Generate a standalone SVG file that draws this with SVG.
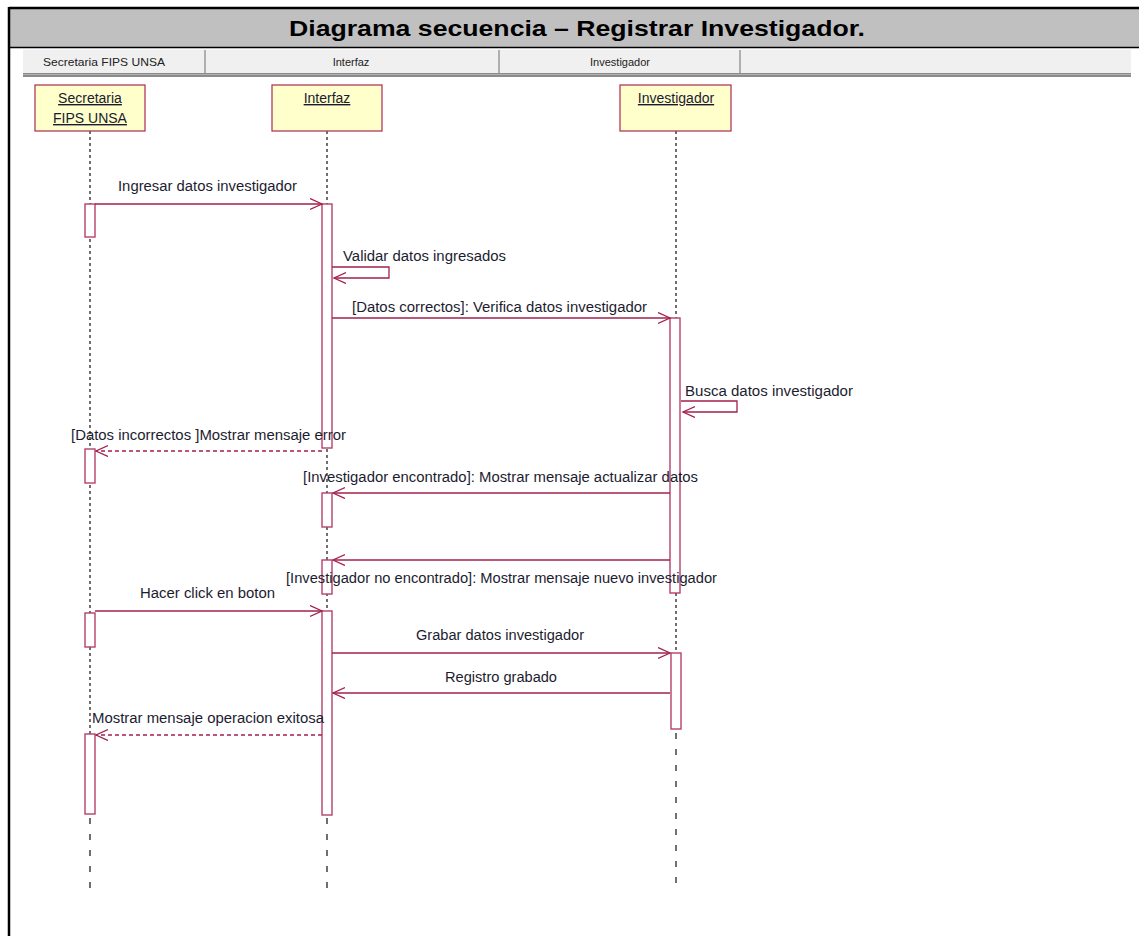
<svg xmlns="http://www.w3.org/2000/svg" width="1139" height="936" viewBox="0 0 1139 936">
  <defs>
    <style>
      .title { font-family: "Liberation Sans", Arial, sans-serif; font-weight: bold; font-size: 22px; fill: #000; }
      .hdr { font-family: "Liberation Sans", Arial, sans-serif; font-size: 11px; fill: #222; }
      .obj { font-family: "Liberation Sans", Arial, sans-serif; font-size: 14px; fill: #1c1c30; text-decoration: underline; }
      .lbl { font-family: "Liberation Sans", Arial, sans-serif; font-size: 14px; fill: #1c1c30; }
      .objbox { fill: #ffffcc; stroke: #b03a5c; stroke-width: 1.3; }
      .life { stroke: #111; stroke-width: 1.2; stroke-dasharray: 3 3; fill: none; }
      .life2 { stroke: #222; stroke-width: 1.3; stroke-dasharray: 6 10; fill: none; }
      .act { fill: #fff; stroke: #b5406a; stroke-width: 1.4; }
      .msg { stroke: #a3204f; stroke-width: 1.3; fill: none; }
      .ret { stroke: #a3204f; stroke-width: 1.3; fill: none; stroke-dasharray: 4 3; }
    </style>
    <marker id="open" markerUnits="userSpaceOnUse" markerWidth="14" markerHeight="13" refX="12" refY="6" orient="auto">
      <path d="M0,0.5 L12,6 L0,11.5" fill="none" stroke="#a3204f" stroke-width="1.3"/>
    </marker>
  </defs>

  <!-- frame and title bar -->
  <rect x="9" y="8" width="1135" height="39" fill="#c0c0c0"/>
  <line x1="9" y1="8" x2="1139" y2="8" stroke="#000" stroke-width="2.5"/>
  <line x1="9" y1="47.5" x2="1139" y2="47.5" stroke="#000" stroke-width="1.5"/>
  <line x1="9" y1="7" x2="9" y2="936" stroke="#000" stroke-width="2.5"/>
  <text class="title" x="577" y="36" text-anchor="middle" textLength="576" lengthAdjust="spacingAndGlyphs">Diagrama secuencia – Registrar Investigador.</text>

  <!-- column header strip -->
  <g id="header">
    <rect x="23" y="49" width="1108" height="25" fill="#f0f0f0"/>
    <line x1="23" y1="49.5" x2="1131" y2="49.5" stroke="#fafafa" stroke-width="1"/>
    <rect x="23" y="73" width="1108" height="4" fill="#8c8c8c"/>
    <line x1="23" y1="74.5" x2="1131" y2="74.5" stroke="#b0b0b0" stroke-width="1"/>
    <line x1="205" y1="50" x2="205" y2="73" stroke="#9a9a9a" stroke-width="1.5"/>
    <line x1="499" y1="50" x2="499" y2="73" stroke="#9a9a9a" stroke-width="1.5"/>
    <line x1="740" y1="50" x2="740" y2="73" stroke="#9a9a9a" stroke-width="1.5"/>
    <text class="hdr" x="43" y="66" textLength="122" lengthAdjust="spacingAndGlyphs">Secretaria FIPS UNSA</text>
    <text class="hdr" x="351" y="66" text-anchor="middle">Interfaz</text>
    <text class="hdr" x="620" y="66" text-anchor="middle">Investigador</text>
  </g>

  <!-- lifelines -->
  <g id="lifelines">
    <line class="life" x1="90" y1="131" x2="90" y2="815"/>
    <line class="life2" x1="90" y1="818" x2="90" y2="890"/>
    <line class="life" x1="327" y1="131" x2="327" y2="815"/>
    <line class="life2" x1="327" y1="818" x2="327" y2="890"/>
    <line class="life" x1="676" y1="131" x2="676" y2="729"/>
    <line class="life2" x1="676" y1="733" x2="676" y2="890"/>
  </g>

  <!-- participants -->
  <g id="secretaria">
    <rect class="objbox" x="35" y="85" width="110" height="46"/>
    <text class="obj" x="90" y="103" text-anchor="middle">Secretaria</text>
    <text class="obj" x="90" y="123" text-anchor="middle">FIPS UNSA</text>
  </g>
  <g id="interfaz">
    <rect class="objbox" x="272" y="85" width="110" height="46"/>
    <text class="obj" x="327" y="103" text-anchor="middle">Interfaz</text>
  </g>
  <g id="investigador">
    <rect class="objbox" x="620" y="85" width="111" height="46"/>
    <text class="obj" x="676" y="103" text-anchor="middle">Investigador</text>
  </g>

  <!-- activation bars -->
  <g id="activations">
    <rect class="act" x="85" y="204" width="10" height="33"/>
    <rect class="act" x="85" y="449" width="10" height="34"/>
    <rect class="act" x="85" y="613" width="10" height="34"/>
    <rect class="act" x="85" y="734" width="10" height="80"/>
    <rect class="act" x="322" y="204" width="10" height="244"/>
    <rect class="act" x="322" y="493" width="10" height="34"/>
    <rect class="act" x="322" y="560" width="10" height="34"/>
    <rect class="act" x="322" y="611" width="10" height="204"/>
    <rect class="act" x="670" y="318" width="10" height="275"/>
    <rect class="act" x="671" y="653" width="10" height="76"/>
  </g>

  <!-- messages -->
  <g id="connectors">
    <line class="msg" x1="95" y1="204" x2="322" y2="204" marker-end="url(#open)"/>
    <polyline class="msg" points="332,267 389,267 389,278 334,278" marker-end="url(#open)"/>
    <line class="msg" x1="332" y1="318" x2="670" y2="318" marker-end="url(#open)"/>
    <polyline class="msg" points="681,401 737,401 737,412 683,412" marker-end="url(#open)"/>
    <line class="ret" x1="322" y1="451" x2="96" y2="451" marker-end="url(#open)"/>
    <line class="msg" x1="670" y1="493" x2="333" y2="493" marker-end="url(#open)"/>
    <line class="msg" x1="670" y1="560" x2="333" y2="560" marker-end="url(#open)"/>
    <line class="msg" x1="95" y1="611" x2="322" y2="611" marker-end="url(#open)"/>
    <line class="msg" x1="332" y1="653" x2="670" y2="653" marker-end="url(#open)"/>
    <line class="msg" x1="670" y1="693" x2="333" y2="693" marker-end="url(#open)"/>
    <line class="ret" x1="322" y1="735" x2="96" y2="735" marker-end="url(#open)"/>
  </g>

  <!-- message labels -->
  <g id="labels">
    <text class="lbl" x="118" y="191" textLength="179" lengthAdjust="spacingAndGlyphs">Ingresar datos investigador</text>
    <text class="lbl" x="343" y="261" textLength="163" lengthAdjust="spacingAndGlyphs">Validar datos ingresados</text>
    <text class="lbl" x="352" y="312" textLength="295" lengthAdjust="spacingAndGlyphs">[Datos correctos]: Verifica datos investigador</text>
    <text class="lbl" x="685" y="396" textLength="168" lengthAdjust="spacingAndGlyphs">Busca datos investigador</text>
    <text class="lbl" x="71" y="440" textLength="275" lengthAdjust="spacingAndGlyphs">[Datos incorrectos ]Mostrar mensaje error</text>
    <text class="lbl" x="303" y="482" textLength="395" lengthAdjust="spacingAndGlyphs">[Investigador encontrado]: Mostrar mensaje actualizar datos</text>
    <text class="lbl" x="286" y="583" textLength="431" lengthAdjust="spacingAndGlyphs">[Investigador no encontrado]: Mostrar mensaje nuevo investigador</text>
    <text class="lbl" x="140" y="598" textLength="135" lengthAdjust="spacingAndGlyphs">Hacer click en boton</text>
    <text class="lbl" x="416" y="640" textLength="168" lengthAdjust="spacingAndGlyphs">Grabar datos investigador</text>
    <text class="lbl" x="445" y="682" textLength="112" lengthAdjust="spacingAndGlyphs">Registro grabado</text>
    <text class="lbl" x="92" y="723" textLength="232" lengthAdjust="spacingAndGlyphs">Mostrar mensaje operacion exitosa</text>
  </g>
</svg>
